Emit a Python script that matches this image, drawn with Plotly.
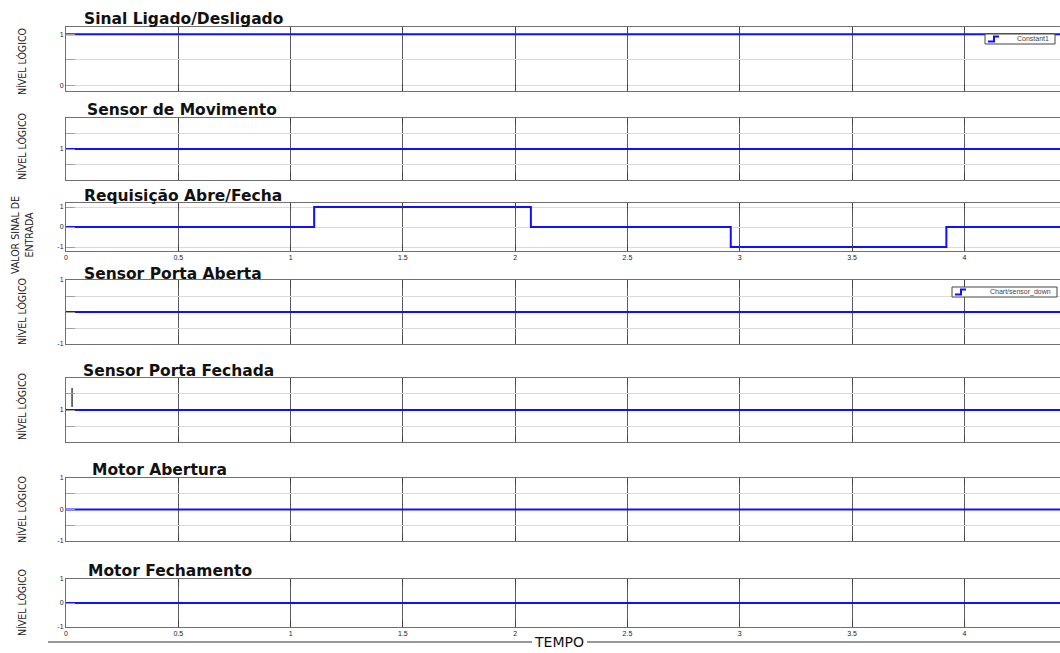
import plotly.graph_objects as go

# ---------------- signal data (time in s) ----------------
T_END = 5.0

ligado_t = [0.0, T_END]
ligado_v = [1, 1]

movimento_t = [0.0, T_END]
movimento_v = [1, 1]

requisicao_t = [0.0, 1.105, 2.07, 2.96, 3.92, T_END]
requisicao_v = [0, 1, 0, -1, 0, 0]

porta_aberta_t = [0.0, T_END]
porta_aberta_v = [0, 0]

porta_fechada_t = [0.0, T_END]
porta_fechada_v = [1, 1]

motor_abertura_t = [0.0, T_END]
motor_abertura_v = [0, 0]

motor_fechamento_t = [0.0, T_END]
motor_fechamento_v = [0, 0]

# short cursor mark left in the "Sensor Porta Fechada" scope
cursor_t = [0.027, 0.027]
cursor_v = [1.09, 1.67]

panel_titles = [
    "Sinal Ligado/Desligado",
    "Sensor de Movimento",
    "Requisição Abre/Fecha",
    "Sensor Porta Aberta",
    "Sensor Porta Fechada",
    "Motor Abertura",
    "Motor Fechamento",
]
y_titles = [
    "NÍVEL LÓGICO",
    "NÍVEL LÓGICO",
    "VALOR SINAL DE<br>ENTRADA",
    "NÍVEL LÓGICO",
    "NÍVEL LÓGICO",
    "NÍVEL LÓGICO",
    "NÍVEL LÓGICO",
]
legend_labels = ["Constant1", None, None, "Chart/sensor_down", None, None, None]

x_tickvals = [0, 0.5, 1, 1.5, 2, 2.5, 3, 3.5, 4]
x_ticktext = ["0", "0.5", "1", "1.5", "2", "2.5", "3", "3.5", "4"]

y_tickvals = [
    [0, 0.5, 1],
    [0.5, 1, 1.5],
    [-1, 0, 1],
    [-1, -0.5, 0, 0.5, 1],
    [0.5, 1, 1.5],
    [-1, -0.5, 0, 0.5, 1],
    [-1, 0, 1],
]
y_ticktext = [
    ["0", "", "1"],
    ["", "1", ""],
    ["-1", "0", "1"],
    ["-1", "", "", "", "1"],
    ["", "1", ""],
    ["-1", "", "0", "", "1"],
    ["-1", "0", "1"],
]
y_ranges = [
    [-0.11, 1.14],
    [0.03, 1.97],
    [-1.2, 1.2],
    [-1, 1],
    [0.03, 1.97],
    [-1, 1],
    [-1, 1],
]

signals = [
    (ligado_t, ligado_v),
    (movimento_t, movimento_v),
    (requisicao_t, requisicao_v),
    (porta_aberta_t, porta_aberta_v),
    (porta_fechada_t, porta_fechada_v),
    (motor_abertura_t, motor_abertura_v),
    (motor_fechamento_t, motor_fechamento_v),
]

# ---------------- page geometry (pixels) ----------------
W, H = 1060, 653
PLOT_LEFT = 66
X_RANGE = [0, 4.426]
panel_px = [(27, 91), (118, 180), (203, 251), (280, 344), (378, 442), (478, 541), (579, 627)]
title_px = [(82, 19.5), (85, 110), (82, 196), (82, 274), (81, 371), (90, 470), (86, 571)]
ytitle_cy = [62, 147, 235, 312, 407, 510, 603]
show_xlabels = [False, False, True, False, False, False, True]
legend_box_px = [(985, 1055, 34, 44), None, None, (952, 1057, 287, 297), None, None, None]


def fx(px):
    return px / W


def fy(py):
    return 1 - py / H


BLUE = "#1010ff"
GRID_V = "#5c5c5c"
GRID_H = "#dadada"
FRAME = "#707070"

fig = go.Figure()
layout = dict(
    width=W, height=H, autosize=False,
    margin=dict(l=0, r=0, t=0, b=0),
    paper_bgcolor="white", plot_bgcolor="white",
    showlegend=False, template="none",
    font=dict(family="Liberation Sans, Arial, sans-serif", color="#222"),
)
annotations = []
shapes = []

for i, ((t, v), (top, bot)) in enumerate(zip(signals, panel_px)):
    n = i + 1
    xs = "x" if n == 1 else f"x{n}"
    ys = "y" if n == 1 else f"y{n}"
    fig.add_trace(go.Scatter(
        x=t, y=v, mode="lines", line=dict(color=BLUE, width=2, shape="hv"),
        xaxis=xs, yaxis=ys, name=legend_labels[i] or panel_titles[i],
    ))
    layout["xaxis" if n == 1 else f"xaxis{n}"] = dict(
        domain=[fx(PLOT_LEFT), 1], range=X_RANGE, anchor=ys,
        tickvals=x_tickvals, ticktext=x_ticktext, showticklabels=show_xlabels[i],
        tickfont=dict(size=7, color="#222"),
        showgrid=True, gridcolor=GRID_V, gridwidth=1,
        ticks="inside", ticklen=7, tickcolor="#444",
        showline=True, linecolor=FRAME, linewidth=1, mirror="allticks",
        zeroline=False, fixedrange=True,
    )
    layout["yaxis" if n == 1 else f"yaxis{n}"] = dict(
        domain=[fy(bot), fy(top)], range=y_ranges[i], anchor=xs,
        tickvals=y_tickvals[i], ticktext=y_ticktext[i],
        tickfont=dict(size=7, color="#222"),
        showgrid=True, gridcolor=GRID_H, gridwidth=1,
        ticks="inside", ticklen=9, tickcolor="#a0a0a0",
        showline=True, linecolor=FRAME, linewidth=1, mirror=False,
        zeroline=False, fixedrange=True,
    )
    tx, ty = title_px[i]
    annotations.append(dict(
        text=f"<b>{panel_titles[i]}</b>", xref="paper", yref="paper",
        x=fx(tx), y=fy(ty), xanchor="left", yanchor="middle", showarrow=False,
        font=dict(family="DejaVu Sans, sans-serif", size=15.5, color="#111"),
    ))
    annotations.append(dict(
        text=y_titles[i], xref="paper", yref="paper", textangle=-90,
        x=fx(22), y=fy(ytitle_cy[i]), xanchor="center", yanchor="middle",
        showarrow=False,
        font=dict(family="Liberation Sans Narrow, DejaVu Sans Condensed, sans-serif",
                  size=10.5, color="#222"),
    ))
    box = legend_box_px[i]
    if box is not None:
        x0, x1, y0, y1 = box
        # legend frame
        shapes.append(dict(
            type="rect", xref="paper", yref="paper", layer="above",
            x0=fx(x0), x1=fx(x1), y0=fy(y1), y1=fy(y0),
            fillcolor="white", line=dict(color="#444", width=1),
        ))
        # step glyph of the legend entry
        gx = x0 + 3
        gy_lo, gy_hi = y1 - 2.5, y0 + 2.5
        shapes.append(dict(
            type="path", xref="paper", yref="paper", layer="above",
            path=(f"M {fx(gx)},{fy(gy_lo)} L {fx(gx + 6)},{fy(gy_lo)} "
                  f"L {fx(gx + 6)},{fy(gy_hi)} L {fx(gx + 11)},{fy(gy_hi)}"),
            line=dict(color=BLUE, width=2),
        ))
        annotations.append(dict(
            text=legend_labels[i], xref="paper", yref="paper",
            x=fx(x1 - 4), y=fy((y0 + y1) / 2), xanchor="right", yanchor="middle",
            showarrow=False, font=dict(size=7, color="#444"),
        ))

# cursor mark in the "Sensor Porta Fechada" panel
fig.add_trace(go.Scatter(
    x=cursor_t, y=cursor_v, mode="lines", line=dict(color="#111", width=1.2),
    xaxis="x5", yaxis="y5", name="cursor",
))

# common time label with its rule running through it
annotations.append(dict(
    text="TEMPO", xref="paper", yref="paper", x=fx(559), y=fy(642),
    xanchor="center", yanchor="middle", showarrow=False,
    font=dict(family="DejaVu Sans, sans-serif", size=14, color="#111"),
))
for xa, xb in [(48, 532), (587, 1060)]:
    shapes.append(dict(type="line", xref="paper", yref="paper",
                       x0=fx(xa), x1=fx(xb), y0=fy(642), y1=fy(642),
                       line=dict(color="#333", width=1)))

layout["annotations"] = annotations
layout["shapes"] = shapes
fig.update_layout(**layout)

fig.write_html("out.html")
